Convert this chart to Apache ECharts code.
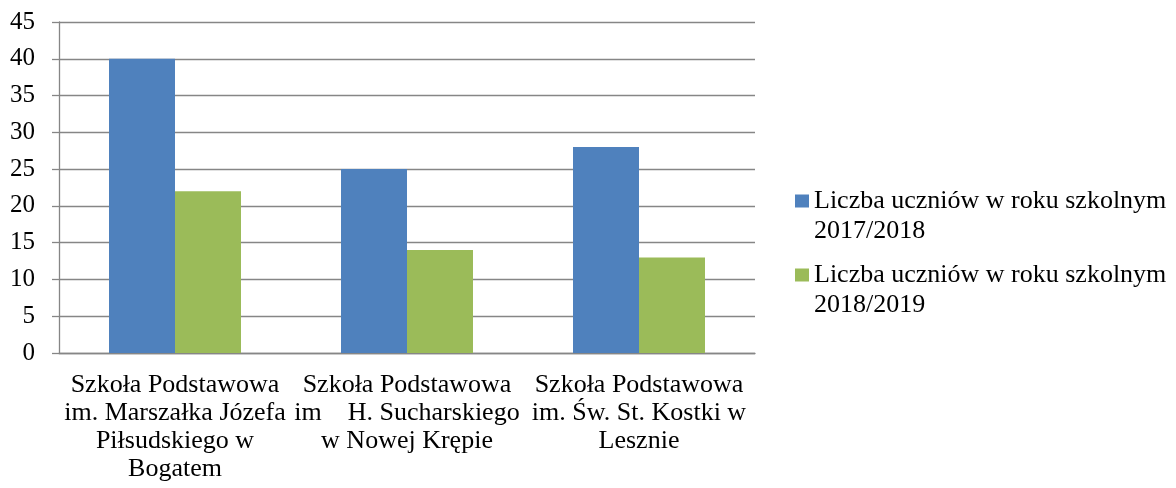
<!DOCTYPE html>
<html>
<head>
<meta charset="utf-8">
<script src="https://cdn.jsdelivr.net/npm/echarts@6/dist/echarts.min.js"></script>
<style>
  html, body { margin: 0; padding: 0; background: #fff; }
  #main { width: 1176px; height: 488px; }
</style>
</head>
<body>
<div id="main"></div>
<script>
// dane z wykresu
const schools = [
  'Szkoła Podstawowa\nim. Marszałka Józefa\nPiłsudskiego w\nBogatem',
  'Szkoła Podstawowa\nim    H. Sucharskiego\nw Nowej Krępie',
  'Szkoła Podstawowa\nim. Św. St. Kostki w\nLesznie'
];
const seriesNames = [
  'Liczba uczniów w roku szkolnym 2017/2018',
  'Liczba uczniów w roku szkolnym 2018/2019'
];
const students2017 = [40, 25, 28];
const students2018 = [22, 14, 13];

const font = 'Liberation Serif, Times New Roman, serif';
const gray = '#868686';

let myChart = echarts.init(document.getElementById('main'));
let option = {
  animation: false,
  textStyle: { fontFamily: font },
  grid: {
    left: 59,
    right: 421,
    top: 22,
    bottom: 135
  },
  legend: {
    orient: 'vertical',
    left: 795,
    top: 156,
    padding: 0,
    itemGap: -16,
    itemWidth: 14,
    itemHeight: 13,
    icon: 'rect',
    // pusta linia na gorze, zeby kwadrat stal przy pierwszym wierszu
    formatter: function (name) {
      return ' \n' + name.replace(' 20', '\n20');
    },
    textStyle: {
      fontFamily: font,
      fontSize: 26,
      lineHeight: 30,
      color: '#000'
    },
    data: seriesNames
  },
  xAxis: {
    type: 'category',
    data: schools,
    axisTick: { show: false },
    axisLine: { lineStyle: { color: gray, width: 1.3 } },
    axisLabel: {
      interval: 0,
      margin: 18,
      fontFamily: font,
      fontSize: 26,
      lineHeight: 28,
      color: '#000'
    }
  },
  yAxis: {
    type: 'value',
    min: 0,
    max: 45,
    interval: 5,
    axisLine: { show: true, lineStyle: { color: gray, width: 1.3 } },
    axisTick: { show: true, length: 7, lineStyle: { color: gray, width: 1.3 } },
    splitLine: { lineStyle: { color: gray, width: 1.3 } },
    axisLabel: {
      margin: 24,
      fontFamily: font,
      fontSize: 25,
      color: '#000'
    }
  },
  series: [
    {
      name: seriesNames[0],
      type: 'bar',
      barWidth: 66,
      barGap: '0%',
      itemStyle: { color: '#4F81BD' },
      data: students2017
    },
    {
      name: seriesNames[1],
      type: 'bar',
      barWidth: 66,
      barGap: '0%',
      itemStyle: { color: '#9BBB59' },
      data: students2018
    }
  ]
};
myChart.setOption(option);
</script>
</body>
</html>
